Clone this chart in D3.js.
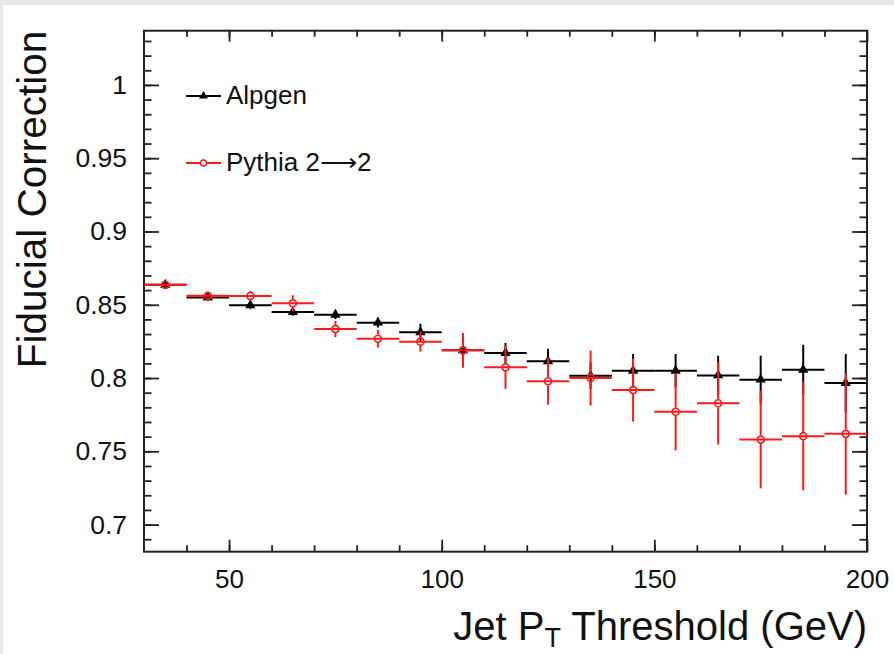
<!DOCTYPE html>
<html>
<head>
<meta charset="utf-8">
<script src="https://cdn.jsdelivr.net/npm/d3@7/dist/d3.min.js"></script>
<style>
  html, body { margin: 0; padding: 0; background: #e8e8e8; }
  svg { display: block; }
  text { font-family: "Liberation Sans", Arial, Helvetica, sans-serif; fill: #111; }
</style>
</head>
<body>
<svg id="chart" width="894" height="654"></svg>
<script>
// ---------------- data ----------------
const binLow  = [30, 40, 50, 60, 70, 80, 90, 100, 110, 120, 130, 140, 150, 160, 170, 180, 190];
const binHigh = [40, 50, 60, 70, 80, 90, 100, 110, 120, 130, 140, 150, 160, 170, 180, 190, 200];
const binCenter = [35, 45, 55, 65, 75, 85, 95, 105, 115, 125, 135, 145, 155, 165, 175, 185, 195];

const alpgenValues = [0.8636, 0.855, 0.8497, 0.845, 0.8432, 0.8378, 0.8312, 0.819, 0.8171, 0.8114, 0.8016, 0.805, 0.805, 0.8018, 0.7989, 0.8057, 0.7966];
const alpgenErrors = [0.0015, 0.002, 0.0025, 0.0025, 0.003, 0.0034, 0.0059, 0.006, 0.0068, 0.0085, 0.009, 0.0114, 0.0114, 0.0134, 0.0164, 0.017, 0.0198];

const pythiaValues = [0.8636, 0.8561, 0.856, 0.851, 0.8334, 0.8268, 0.8248, 0.8189, 0.8073, 0.7978, 0.80, 0.7918, 0.777, 0.7828, 0.758, 0.7603, 0.7619];
const pythiaErrors = [0.002, 0.0025, 0.0033, 0.0055, 0.0055, 0.006, 0.0068, 0.0119, 0.0147, 0.0159, 0.0188, 0.0215, 0.0264, 0.0282, 0.0333, 0.0368, 0.0415];

const seriesNames = ["Alpgen", "Pythia 2\u27F62"];
const seriesColors = ["#000000", "#ff1a1a"];

const xMajorTicks = [50, 100, 150, 200];
const xMinorTicks = [40, 50, 60, 70, 80, 90, 100, 110, 120, 130, 140, 150, 160, 170, 180, 190];
const yMajorTicks = [0.7, 0.75, 0.8, 0.85, 0.9, 0.95, 1.0];
const yMinorTicks = d3.range(69, 104).map(v => v / 100);
const yTickLabels = ["0.7", "0.75", "0.8", "0.85", "0.9", "0.95", "1"];

const xTitleMain = "Jet P";
const xTitleSub = "T";
const xTitleRest = " Threshold (GeV)";
const yTitle = "Fiducial Correction";

// ---------------- layout ----------------
const W = 894, H = 654;
const plot = { left: 144, right: 867, top: 30.7, bottom: 551.7 };

const svg = d3.select("#chart");
svg.append("rect").attr("x", 3).attr("y", 5).attr("width", W - 3).attr("height", H - 5).attr("fill", "#ffffff");

const x = d3.scaleLinear().domain([30, 200]).range([plot.left, plot.right]);
const y = d3.scaleLinear().domain([0.6815, 1.037]).range([plot.bottom, plot.top]);

// ---------------- axes ----------------
const axisColor = "#222";
function styleAxis(g) {
  g.select(".domain").remove();
  g.selectAll(".tick line").attr("stroke", axisColor).attr("stroke-width", 1.8);
}

// bottom
svg.append("g").attr("transform", `translate(0,${plot.bottom})`)
  .call(d3.axisBottom(x).tickValues(xMinorTicks).tickSize(-6.5).tickFormat(""))
  .call(styleAxis);
svg.append("g").attr("transform", `translate(0,${plot.bottom})`)
  .call(d3.axisBottom(x).tickValues(xMajorTicks).tickSize(-12).tickPadding(18).tickFormat(d3.format("d")))
  .call(styleAxis)
  .call(g => g.selectAll("text").attr("font-size", 26).attr("fill", "#111"));
// top
svg.append("g").attr("transform", `translate(0,${plot.top})`)
  .call(d3.axisTop(x).tickValues(xMinorTicks).tickSize(-6).tickFormat(""))
  .call(styleAxis);
svg.append("g").attr("transform", `translate(0,${plot.top})`)
  .call(d3.axisTop(x).tickValues(xMajorTicks).tickSize(-11).tickFormat(""))
  .call(styleAxis);
// left
svg.append("g").attr("transform", `translate(${plot.left},0)`)
  .call(d3.axisLeft(y).tickValues(yMinorTicks).tickSize(-7.5).tickFormat(""))
  .call(styleAxis);
svg.append("g").attr("transform", `translate(${plot.left},0)`)
  .call(d3.axisLeft(y).tickValues(yMajorTicks).tickSize(-15).tickPadding(17)
        .tickFormat((d, i) => yTickLabels[i]))
  .call(styleAxis)
  .call(g => g.selectAll("text").attr("font-size", 26.5).attr("fill", "#111"));
// right
svg.append("g").attr("transform", `translate(${plot.right},0)`)
  .call(d3.axisRight(y).tickValues(yMinorTicks).tickSize(-7.5).tickFormat(""))
  .call(styleAxis);
svg.append("g").attr("transform", `translate(${plot.right},0)`)
  .call(d3.axisRight(y).tickValues(yMajorTicks).tickSize(-15).tickFormat(""))
  .call(styleAxis);

// frame
svg.append("rect")
  .attr("x", plot.left).attr("y", plot.top)
  .attr("width", plot.right - plot.left).attr("height", plot.bottom - plot.top)
  .attr("fill", "none").attr("stroke", axisColor).attr("stroke-width", 2);

// titles
const xt = svg.append("text").attr("x", plot.right).attr("y", 640)
  .attr("text-anchor", "end").attr("font-size", 40);
xt.append("tspan").text(xTitleMain);
xt.append("tspan").attr("font-size", 27).attr("dy", 7).text(xTitleSub);
xt.append("tspan").attr("dy", -7).text(xTitleRest);

svg.append("text")
  .attr("transform", `translate(46,${plot.top}) rotate(-90)`)
  .attr("text-anchor", "end").attr("font-size", 40.5)
  .text(yTitle);

// ---------------- data marks ----------------
svg.append("clipPath").attr("id", "clip")
  .append("rect").attr("x", plot.left).attr("y", plot.top)
  .attr("width", plot.right - plot.left).attr("height", plot.bottom - plot.top);

const dataG = svg.append("g").attr("clip-path", "url(#clip)");

function drawSeries(values, errors, color, kind) {
  const g = dataG.append("g");
  const gap = kind === "circle" ? 4.2 : 0;
  values.forEach((v, i) => {
    const cx = x(binCenter[i]), cy = y(v);
    // horizontal bin-width bar
    g.append("line")
      .attr("x1", x(binLow[i])).attr("x2", x(binHigh[i]))
      .attr("y1", cy).attr("y2", cy)
      .attr("stroke", color).attr("stroke-width", 2);
    // vertical error bar (with gap around the marker)
    const yTop = y(v + errors[i]), yBot = y(v - errors[i]);
    if (cy - yTop > gap) {
      g.append("line").attr("x1", cx).attr("x2", cx)
        .attr("y1", yTop).attr("y2", cy - gap)
        .attr("stroke", color).attr("stroke-width", 2);
    }
    if (yBot - cy > gap) {
      g.append("line").attr("x1", cx).attr("x2", cx)
        .attr("y1", cy + gap).attr("y2", yBot)
        .attr("stroke", color).attr("stroke-width", 2);
    }
  });
  if (kind === "triangle") {
    g.selectAll("path.mk").data(values).join("path")
      .attr("class", "mk")
      .attr("transform", (v, i) => `translate(${x(binCenter[i])},${y(v)})`)
      .attr("d", d3.symbol(d3.symbolTriangle, 46)())
      .attr("fill", color);
  } else {
    g.selectAll("circle.mk").data(values).join("circle")
      .attr("class", "mk")
      .attr("cx", (v, i) => x(binCenter[i])).attr("cy", v => y(v))
      .attr("r", 3.5)
      .attr("fill", "none").attr("stroke", color).attr("stroke-width", 1.7);
  }
}

drawSeries(alpgenValues, alpgenErrors, seriesColors[0], "triangle");
drawSeries(pythiaValues, pythiaErrors, seriesColors[1], "circle");

// ---------------- legend ----------------
const legendRows = [
  { name: seriesNames[0], color: seriesColors[0], kind: "triangle", ly: 96 },
  { name: seriesNames[1], color: seriesColors[1], kind: "circle", ly: 163 }
];
legendRows.forEach(r => {
  const g = svg.append("g");
  g.append("line").attr("x1", 186).attr("x2", 221).attr("y1", r.ly).attr("y2", r.ly)
    .attr("stroke", r.color).attr("stroke-width", 2);
  if (r.kind === "triangle") {
    g.append("path").attr("transform", `translate(203.5,${r.ly})`)
      .attr("d", d3.symbol(d3.symbolTriangle, 34)()).attr("fill", r.color);
  } else {
    g.append("circle").attr("cx", 203.5).attr("cy", r.ly).attr("r", 3)
      .attr("fill", "#fff").attr("stroke", r.color).attr("stroke-width", 1.4);
  }
  g.append("text").attr("x", 226).attr("y", r.ly + 7.5)
    .attr("font-size", 26).text(r.name);
});
</script>
</body>
</html>
